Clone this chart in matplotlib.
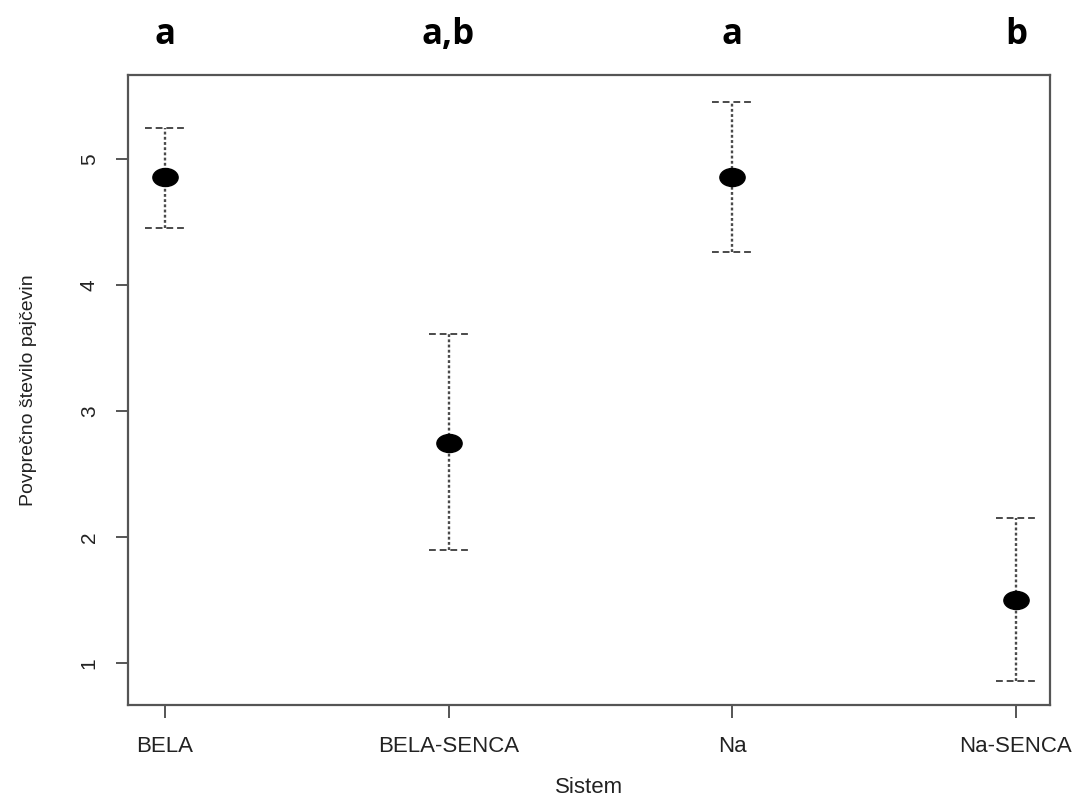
import matplotlib
matplotlib.use("Agg")
import matplotlib.pyplot as plt
from matplotlib.path import Path
from matplotlib.transforms import Affine2D

# data
sistemi = ["BELA", "BELA-SENCA", "Na", "Na-SENCA"]
povprecje = [4.86, 2.75, 4.86, 1.50]
zgornja = [5.25, 3.61, 5.45, 2.15]
spodnja = [4.45, 1.90, 4.26, 0.86]
skupine = ["a", "a,b", "a", "b"]

plt.rcParams['font.family'] = ['Liberation Sans', 'DejaVu Sans']

fig = plt.figure(figsize=(10.81, 7.99), dpi=100)
ax = fig.add_axes([0.1184, 0.1176, 0.8529, 0.7885])

x = list(range(1, len(sistemi) + 1))
cap = 0.07
grey = "#4a4a4a"

# error bars: dotted stems, dashed caps
ax.vlines(x, spodnja, zgornja, colors=grey, linestyles=(0, (1.2, 1.0)), linewidth=1.7)
ax.hlines(zgornja, [i - cap for i in x], [i + cap for i in x], colors=grey,
          linestyles=(0, (3.5, 2)), linewidth=1.4)
ax.hlines(spodnja, [i - cap for i in x], [i + cap for i in x], colors=grey,
          linestyles=(0, (3.5, 2)), linewidth=1.4)

# wide ellipse marker (the original image is stretched sideways)
ellipse = Path.unit_circle().transformed(Affine2D().scale(1.4, 1.0))
ax.scatter(x, povprecje, marker=ellipse, s=330, color="black", zorder=3)

ax.set_xlim(0.87, 4.12)
ax.set_ylim(0.667, 5.667)
ax.set_xticks(x)
ax.set_xticklabels(sistemi, fontsize=16, color="#222222")
ax.set_yticks([1, 2, 3, 4, 5])
ax.set_yticklabels(["1", "2", "3", "4", "5"], fontsize=15, rotation=90,
                   va="center", color="#222222")
ax.tick_params(length=9, width=1.4, color="#555555")
ax.tick_params(axis="x", pad=13)
ax.tick_params(axis="y", pad=12)
for s in ax.spines.values():
    s.set_color("#555555")
    s.set_linewidth(1.6)

ax.set_xlabel("Sistem", fontsize=16, color="#222222", labelpad=15)
ax.set_ylabel("Povprečno število pajčevin", fontsize=14, color="#222222", labelpad=31)

# group letters above the plot
for xi, lab in zip(x, skupine):
    ax.text(xi, 1.035, lab, transform=ax.get_xaxis_transform(), ha="center",
            va="bottom", fontsize=25, fontweight="bold",
            family=["Open Sans", "DejaVu Sans"])

fig.savefig("out.png", dpi=100)
